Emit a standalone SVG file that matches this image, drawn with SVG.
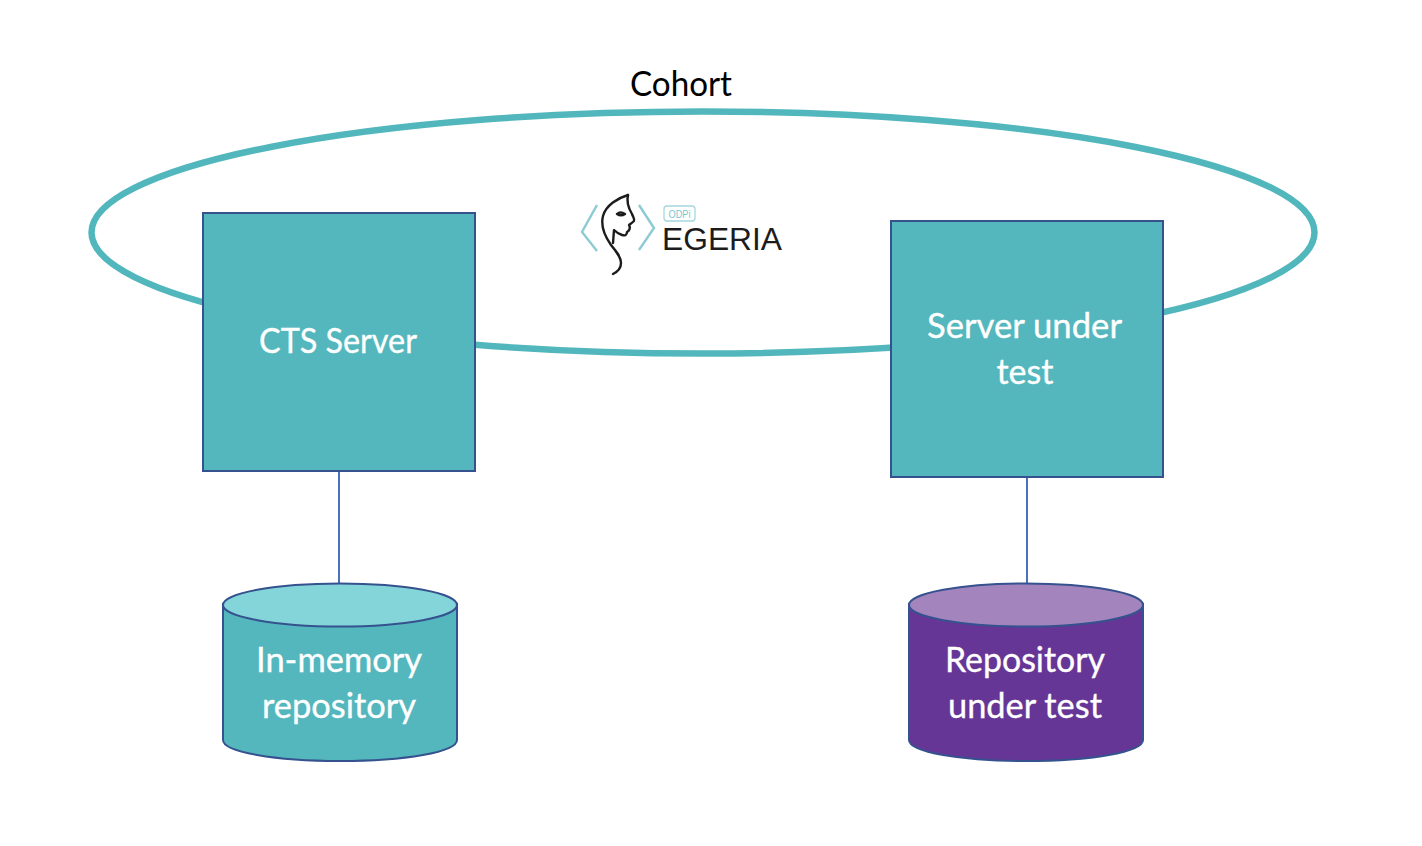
<svg xmlns="http://www.w3.org/2000/svg" width="1422" height="846" viewBox="0 0 1422 846">
<style>
.node{stroke:#35528f;stroke-width:2}
.teal{fill:#53b7bd}
.lbl{font-family:"Lato","Carlito","Liberation Sans",sans-serif;font-size:35.5px;fill:#fff;stroke:#fff;stroke-width:.35;text-anchor:middle}
.conn{stroke:#4a70bb;stroke-width:2;fill:none}
.chev{stroke:#8ccbd3;stroke-width:2.4;fill:none}
.face{stroke:#1c1c1c;stroke-width:2.4;fill:none;stroke-linecap:round;stroke-linejoin:round}
</style>
<rect width="1422" height="846" fill="#fff"/>
<g id="cohort">
<ellipse cx="703" cy="232.500" rx="611.500" ry="121" fill="none" stroke="#52b7bd" stroke-width="6.500"/>
<text x="681" y="96" font-family="Lato,'Liberation Sans',sans-serif" font-size="35.500" fill="#000" text-anchor="middle" textLength="102" lengthAdjust="spacingAndGlyphs">Cohort</text>
</g>
<g id="connectors">
<line class="conn" x1="339" y1="471" x2="339" y2="584"/>
<line class="conn" x1="1027" y1="477" x2="1027" y2="584"/>
</g>
<g id="logo">
<path class="chev" d="M597 205L582 232L597 251"/>
<path class="chev" d="M639 205L654 228L639 250"/>
<path class="face" d="M628 195C618 198 606 205 603 216C600 228 606 238 611 245C616 251 621 257 621 263C621 269 617 272 613 274"/>
<path class="face" d="M628 195C626 203 629 209 632 214C633 217 635 219 634 221C632 223 630 224 629 225C631 228 629 231 627 232C627 235 625 236 622 235C619 234 616 232 614 230L613 243"/>
<path class="face" d="M617 214C619 212 622 212 625 214C622 216 620 216 617 214"/>
<rect x="664" y="206" width="31" height="15" rx="3" fill="none" stroke="#a5d8de" stroke-width="1.300"/>
<text x="679.500" y="217.500" font-family="'Liberation Sans',sans-serif" font-size="11.500" fill="#7cc5cf" text-anchor="middle" textLength="22" lengthAdjust="spacingAndGlyphs">ODPi</text>
<text x="662" y="250" font-family="'Liberation Sans',sans-serif" font-size="32" fill="#1c1c1c" textLength="120" lengthAdjust="spacingAndGlyphs">EGERIA</text>
</g>
<g id="cts-server">
<rect class="node teal" x="203" y="213" width="272" height="258"/>
<text class="lbl" x="338" y="353" textLength="158" lengthAdjust="spacingAndGlyphs">CTS Server</text>
</g>
<g id="server-under-test">
<rect class="node teal" x="891" y="221" width="272" height="256"/>
<text class="lbl" x="1024.500" y="338" textLength="195" lengthAdjust="spacingAndGlyphs">Server under</text>
<text class="lbl" x="1025" y="384" textLength="57" lengthAdjust="spacingAndGlyphs">test</text>
</g>
<g id="in-memory-repository">
<path class="node teal" d="M223 604V740C223 752 275 761 340 761C405 761 457 752 457 740V604Z"/>
<ellipse class="node" cx="340" cy="605" rx="117" ry="21.500" fill="#83d5d9"/>
<text class="lbl" x="339" y="672" textLength="166" lengthAdjust="spacingAndGlyphs">In-memory</text>
<text class="lbl" x="339" y="718" textLength="154" lengthAdjust="spacingAndGlyphs">repository</text>
</g>
<g id="repository-under-test">
<path class="node" fill="#663696" d="M909 604V740C909 752 961 761 1026 761C1091 761 1143 752 1143 740V604Z"/>
<ellipse class="node" cx="1026" cy="605" rx="117" ry="21.500" fill="#a384bd"/>
<text class="lbl" x="1025" y="672" textLength="160" lengthAdjust="spacingAndGlyphs">Repository</text>
<text class="lbl" x="1025" y="718" textLength="154" lengthAdjust="spacingAndGlyphs">under test</text>
</g>
</svg>
